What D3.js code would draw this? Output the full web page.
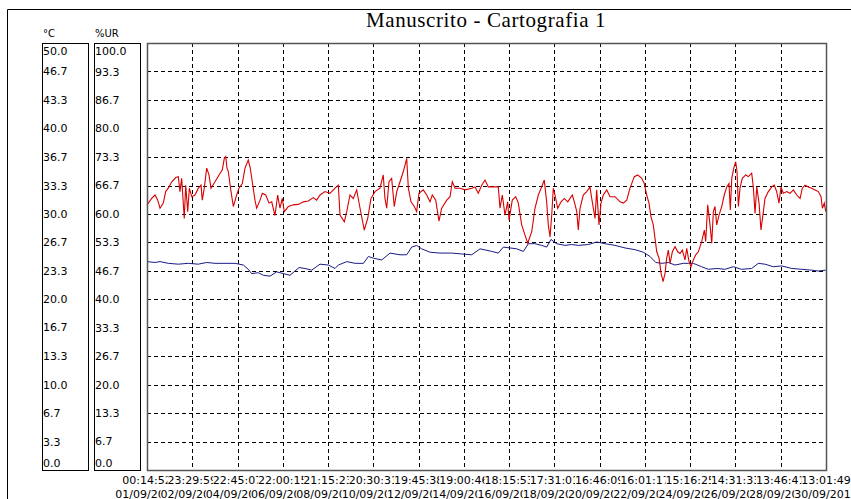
<!DOCTYPE html>
<html>
<head>
<meta charset="utf-8">
<script src="https://d3js.org/d3.v7.min.js"></script>
<style>
  body { margin: 0; background: #fff; }
  svg { display: block; }
  text { font-family: "DejaVu Sans", Verdana, sans-serif; font-size: 11px; fill: #000; }
</style>
</head>
<body>
<div id="chart"></div>
<script>
// elapsed hours from 01/09 00:14:52, 15 intervals of 47:15:08
let spanHours = 708.78;

let timeLabels = ['00:14:52', '23:29:59', '22:45:07', '22:00:15', '21:15:23', '20:30:31', '19:45:38', '19:00:46',
    '18:15:53', '17:31:01', '16:46:09', '16:01:17', '15:16:25', '14:31:33', '13:46:41', '13:01:49'];
let dateLabels = ['01/09/2012', '02/09/2012', '04/09/2012', '06/09/2012', '08/09/2012', '10/09/2012', '12/09/2012', '14/09/2012',
    '16/09/2012', '18/09/2012', '20/09/2012', '22/09/2012', '24/09/2012', '26/09/2012', '28/09/2012', '30/09/2012'];
let tempTicks = ['0.0', '3.3', '6.7', '10.0', '13.3', '16.7', '20.0', '23.3', '26.7', '30.0', '33.3', '36.7', '40.0', '43.3', '46.7', '50.0'];
let rhTicks = ['0.0', '6.7', '13.3', '20.0', '26.7', '33.3', '40.0', '46.7', '53.3', '60.0', '66.7', '73.3', '80.0', '86.7', '93.3', '100.0'];

// %UR (red)
let rhHours = [0, 4.9, 8.4, 11.2, 13.6, 17.0, 19.5, 22.2, 25.8, 30.0, 32.7, 34.4, 36.2, 38.9, 40.4, 42.5, 44.2, 46.7, 50.1, 53.6,
    56.4, 57.7, 59.8, 62.3, 64.7, 66.8, 71.0, 75.2, 78.6, 80.7, 82.2, 83.5, 84.9, 87.7, 90.1, 93.6, 96.0, 99.5, 102.3, 105.7,
    107.8, 109.9, 112.7, 114.5, 118.0, 120.4, 123.9, 127.4, 130.2, 133.6, 136.4, 138.8, 141.2, 143.3, 147.5, 152.7, 157.9, 163.2, 168.4, 173.6,
    177.1, 180.6, 185.8, 191.0, 196.3, 199.7, 201.5, 206.0, 208.5, 211.9, 215.4, 218.9, 222.4, 226.8, 230.4, 233.8, 238.0, 243.2, 246.6, 248.4,
    250.2, 252.6, 255.4, 258.1, 260.7, 264.1, 267.6, 271.1, 272.8, 275.6, 279.0, 281.5, 283.9, 288.4, 292.0, 295.4, 297.8, 301.4, 304.8, 307.6,
    312.9, 316.3, 318.7, 321.5, 326.7, 332.0, 339.0, 342.4, 345.8, 349.4, 352.8, 356.3, 361.5, 366.7, 368.5, 370.9, 373.7, 376.5, 377.9, 381.3,
    384.9, 387.6, 391.1, 394.6, 397.4, 401.6, 405.0, 408.5, 412.0, 414.7, 417.2, 418.9, 420.7, 422.5, 424.1, 425.9, 428.7, 432.2, 435.6, 439.2,
    441.6, 444.0, 446.1, 448.6, 450.2, 452.0, 455.4, 459.0, 462.4, 464.8, 467.7, 469.4, 471.8, 473.9, 476.3, 479.9, 483.3, 488.5, 493.8, 497.2,
    500.8, 504.2, 508.7, 512.2, 516.4, 519.1, 521.6, 524.0, 526.1, 528.5, 532.1, 534.5, 536.6, 538.7, 540.8, 542.5, 544.2, 546.0, 548.4, 551.2,
    554.0, 556.4, 558.8, 561.6, 563.4, 565.8, 567.9, 570.3, 572.8, 575.5, 579.0, 581.8, 583.2, 585.3, 587.7, 589.5, 591.2, 592.9, 594.7, 597.1,
    599.9, 602.6, 605.2, 607.5, 608.9, 610.4, 612.5, 614.5, 615.9, 617.3, 619.0, 621.4, 625.0, 627.7, 631.2, 632.9, 634.7, 636.5, 638.9, 640.9,
    643.4, 645.1, 648.6, 652.1, 654.8, 657.3, 659.7, 661.8, 664.2, 667.8, 671.2, 674.7, 678.2, 681.7, 684.1, 686.9, 690.3, 693.9, 697.3, 700.8,
    703.6, 705.0, 707.0, 708.5];
let rhValues = [62.1, 63.6, 64.4, 63.2, 61.3, 62.5, 65.2, 66.0, 67.5, 68.5, 68.7, 65.2, 68.3, 58.9, 66.7, 60.5, 66.0, 64.0, 64.4, 66.0,
    66.7, 63.2, 66.0, 70.7, 69.1, 66.0, 67.5, 69.1, 70.3, 73.0, 73.4, 70.7, 69.9, 65.2, 61.7, 64.4, 66.0, 67.1, 70.7, 72.6,
    70.7, 67.5, 63.2, 61.3, 63.2, 64.8, 64.4, 62.5, 62.8, 59.6, 64.4, 61.3, 63.6, 60.5, 61.7, 62.1, 62.2, 62.8, 63.0, 63.8,
    63.2, 64.4, 65.2, 64.8, 66.0, 66.7, 59.7, 58.1, 60.5, 64.4, 63.6, 65.6, 61.3, 56.2, 58.9, 63.6, 65.2, 66.0, 69.1, 63.6,
    61.3, 67.5, 68.3, 61.7, 65.2, 67.5, 69.9, 73.0, 66.0, 62.8, 61.7, 60.5, 64.8, 65.6, 64.4, 62.8, 64.4, 63.2, 58.3, 61.3,
    63.2, 64.0, 67.5, 66.0, 66.0, 65.6, 66.0, 66.3, 64.8, 66.7, 67.9, 66.3, 66.3, 66.3, 61.3, 64.4, 59.7, 62.8, 58.5, 63.2,
    64.0, 62.5, 57.4, 55.0, 53.1, 55.8, 61.3, 64.4, 66.3, 67.9, 62.8, 57.4, 54.6, 59.7, 66.0, 64.4, 61.3, 62.8, 63.6, 62.8,
    63.6, 64.4, 62.8, 60.5, 56.2, 61.3, 64.4, 65.2, 66.3, 62.8, 58.9, 65.6, 57.4, 62.5, 64.4, 65.6, 64.0, 64.0, 62.8, 62.5,
    63.2, 66.0, 68.7, 69.1, 68.3, 67.1, 64.4, 62.5, 59.3, 57.4, 51.1, 49.6, 46.1, 44.1, 46.1, 49.6, 51.5, 48.4, 51.1, 52.3,
    51.1, 50.7, 51.5, 49.2, 51.9, 48.8, 47.6, 49.2, 50.4, 51.1, 53.5, 56.2, 53.5, 62.1, 57.4, 53.1, 60.5, 61.7, 57.4, 59.7,
    61.7, 64.4, 66.3, 67.1, 60.9, 68.3, 70.7, 72.2, 69.9, 61.7, 66.0, 68.3, 69.1, 68.7, 69.5, 66.3, 60.1, 66.3, 62.5, 56.2,
    60.5, 63.6, 65.2, 66.3, 66.7, 65.2, 62.5, 66.3, 64.8, 65.2, 64.8, 65.6, 64.4, 63.6, 66.0, 66.7, 66.3, 66.0, 65.6, 65.2,
    64.0, 61.3, 62.5, 60.5];

// °C (blue)
let tHours = [0, 8.4, 13.6, 22.2, 32.7, 43.1, 53.6, 62.3, 71.0, 81.4, 91.9, 100.6, 105.7, 109.2, 116.2, 121.4, 128.4, 135.4, 142.3, 149.3,
    154.5, 158.7, 165.0, 171.9, 180.6, 189.3, 196.3, 199.7, 208.5, 217.2, 225.9, 231.1, 236.3, 245.0, 253.7, 264.1, 271.1, 276.3, 281.5, 286.7,
    295.4, 305.8, 318.0, 328.4, 339.0, 347.7, 359.8, 366.7, 372.0, 379.0, 385.9, 392.9, 398.1, 405.0, 412.0, 417.2, 421.7, 427.6, 436.3, 443.3,
    450.2, 460.7, 469.4, 478.2, 488.5, 499.0, 509.4, 518.1, 525.1, 531.0, 537.7, 544.2, 551.2, 559.8, 565.1, 570.3, 579.0, 585.9, 594.7, 603.3,
    612.0, 620.7, 631.2, 638.1, 645.1, 653.8, 662.5, 673.0, 683.4, 693.9, 700.8, 708.5];
let tValues = [24.4, 24.3, 24.4, 24.2, 24.1, 24.2, 24.1, 24.3, 24.2, 24.2, 24.2, 24.0, 23.5, 23.0, 23.1, 22.8, 22.7, 23.2, 23.0, 22.8,
    23.3, 23.7, 23.6, 23.4, 24.1, 24.0, 23.6, 24.0, 24.4, 24.2, 24.2, 25.0, 24.8, 24.6, 25.4, 25.2, 25.2, 26.1, 26.3, 25.9,
    25.5, 25.4, 25.4, 25.3, 25.2, 25.9, 25.6, 25.4, 26.1, 26.0, 25.9, 25.6, 26.5, 26.5, 26.3, 26.1, 27.0, 26.5, 26.3, 26.4,
    26.3, 26.4, 26.7, 26.5, 26.3, 26.0, 25.8, 25.5, 25.0, 24.3, 24.2, 24.3, 24.0, 24.2, 24.2, 24.2, 23.8, 23.5, 23.6, 23.5,
    23.8, 23.5, 23.6, 24.2, 24.1, 23.8, 23.9, 23.6, 23.5, 23.4, 23.3, 23.4];

let width = 851, height = 499;
let plot = {left: 147, right: 826, top: 43, bottom: 470};

let svg = d3.select('#chart').append('svg')
    .attr('width', width)
    .attr('height', height);

// window frame
svg.append('path')
    .attr('d', 'M7.5,' + height + 'V9.5H' + width)
    .attr('fill', 'none')
    .attr('stroke', '#000')
    .attr('stroke-width', 1);

svg.append('text')
    .attr('x', 486)
    .attr('y', 27)
    .attr('text-anchor', 'middle')
    .style('font-family', '"Liberation Serif", "Times New Roman", serif')
    .style('font-size', '21px')
    .style('letter-spacing', '0.6px')
    .text('Manuscrito - Cartografia 1');

let x = d3.scaleLinear().domain([0, spanHours]).range([plot.left, plot.right]);
let yT = d3.scaleLinear().domain([0, 50]).range([plot.bottom, plot.top]);
let yRH = d3.scaleLinear().domain([0, 100]).range([plot.bottom, plot.top]);

// axis boxes
let boxes = [
    {x0: 42, x1: 88, unit: '°C', ticks: tempTicks, scale: yT},
    {x0: 94, x1: 140, unit: '%UR', ticks: rhTicks, scale: yRH}
];
boxes.forEach(function (b) {
    svg.append('rect')
        .attr('x', b.x0 + 0.5)
        .attr('y', plot.top + 0.5)
        .attr('width', b.x1 - b.x0)
        .attr('height', plot.bottom - plot.top)
        .attr('fill', 'none')
        .attr('stroke', '#000');
    svg.append('text')
        .attr('x', b.x0 + 1)
        .attr('y', 37)
        .style('font-size', '10px')
        .text(b.unit);
    svg.selectAll(null)
        .data(b.ticks)
        .enter()
        .append('text')
        .attr('x', b.x0 + 1)
        .attr('y', function (d) {
            let yy = b.scale(+d) + 4;
            return Math.max(plot.top + 12, Math.min(plot.bottom - 3, yy));
        })
        .text(function (d) {
            return d
        });
});

// grid
let gridG = svg.append('g')
    .attr('stroke', '#000')
    .attr('stroke-dasharray', '4,3');
let hVals = tempTicks.map(Number).filter(function (d) {
    return d > 0 && d < 50
});
gridG.selectAll('line.h')
    .data(hVals)
    .enter()
    .append('line')
    .attr('class', 'h')
    .attr('x1', plot.left)
    .attr('x2', plot.right)
    .attr('y1', function (d) {
        return Math.round(yT(d)) + 0.5
    })
    .attr('y2', function (d) {
        return Math.round(yT(d)) + 0.5
    });
let tickHours = timeLabels.map(function (d, i) {
    return i * spanHours / (timeLabels.length - 1)
});
gridG.selectAll('line.v')
    .data(tickHours.slice(1, -1))
    .enter()
    .append('line')
    .attr('class', 'v')
    .attr('y1', plot.top)
    .attr('y2', plot.bottom)
    .attr('x1', function (d) {
        return Math.round(x(d)) + 0.5
    })
    .attr('x2', function (d) {
        return Math.round(x(d)) + 0.5
    });

// time + date labels, each painted on a white box so the next one covers the tail of the previous
let drawLabelRow = function (labels, baseline) {
    labels.forEach(function (lab, i) {
        let g = svg.append('g')
            .attr('transform', 'translate(' + x(tickHours[i]) + ',' + baseline + ')');
        let bg = g.append('rect').attr('fill', '#fff');
        let t = g.append('text')
            .attr('text-anchor', 'middle')
            .text(lab);
        let bb = t.node().getBBox();
        bg.attr('x', bb.x)
            .attr('y', bb.y + 1)
            .attr('width', bb.width)
            .attr('height', bb.height - 1);
    });
};
drawLabelRow(timeLabels, 484);
drawLabelRow(dateLabels, 498);

// series
let rhLine = d3.line()
    .x(function (d, i) {
        return x(rhHours[i])
    })
    .y(function (d) {
        return yRH(d)
    });
let tLine = d3.line()
    .x(function (d, i) {
        return x(tHours[i])
    })
    .y(function (d) {
        return yT(d)
    });

svg.append('path')
    .attr('d', tLine(tValues))
    .attr('fill', 'none')
    .attr('stroke', '#1a1a86')
    .attr('stroke-width', 1);
svg.append('path')
    .attr('d', rhLine(rhValues))
    .attr('fill', 'none')
    .attr('stroke', '#d80000')
    .attr('stroke-width', 1.1);

// plot border
svg.append('rect')
    .attr('x', plot.left + 0.5)
    .attr('y', plot.top + 0.5)
    .attr('width', plot.right - plot.left)
    .attr('height', plot.bottom - plot.top)
    .attr('fill', 'none')
    .attr('stroke', '#555')
    .attr('stroke-width', 1.5);
</script>
</body>
</html>
